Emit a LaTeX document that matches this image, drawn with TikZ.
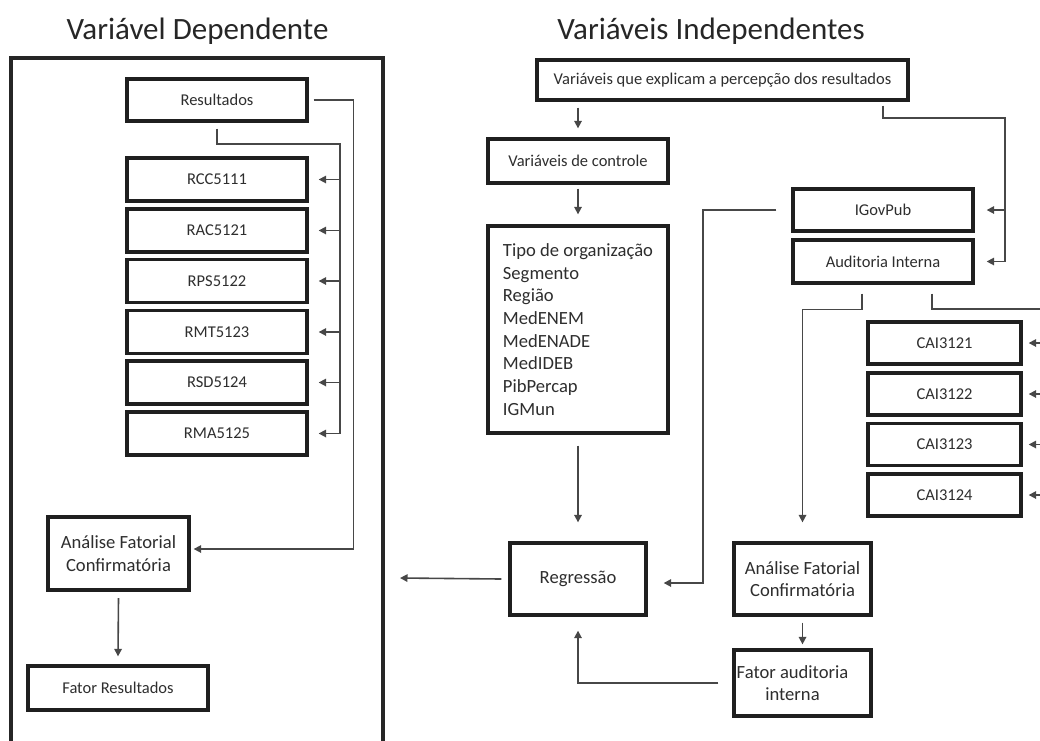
\documentclass[tikz,border=0pt]{standalone}
\usepackage{fontspec}
\setmainfont{Carlito}
\usetikzlibrary{arrows.meta,calc}
\begin{document}
\begin{tikzpicture}[x=1pt,y=-1pt,
  box/.style={draw=black!88,line width=3.3pt,fill=white,inner sep=0pt,text=black!82,
    font=\fontsize{16.5}{20}\selectfont,align=center},
  bigbox/.style={box,font=\fontsize{18.6}{22.7}\selectfont},
  conn/.style={draw=black!72,line width=1.6pt},
  arr/.style={conn,-{Triangle[length=7.5pt,width=7.5pt]}},
  title/.style={text=black!85,font=\fontsize{31}{36}\selectfont,inner sep=0pt,anchor=base},
  frame/.style={draw=black!85,line width=3.3pt}]
\useasboundingbox (0,0) rectangle (1040,740);
\clip (0,0) rectangle (1040,740);

% titles
\node[title] (t1) at (197.5,39) {Variável Dependente};
\node[title] (t2) at (711,39) {Variáveis Independentes};

% left frame (open at the bottom of the picture)
\draw[frame] (11,760) -- (11,58) -- (383,58) -- (383,760);

% ---------- left side ----------
\node[box,minimum width=180pt,minimum height=42pt] (res) at (217,100) {Resultados};
\foreach \n/\t/\y in {RCC/RCC5111/179.5,RAC/RAC5121/230.5,RPS/RPS5122/281,
                      RMT/RMT5123/332,RSD/RSD5124/382.5,RMA/RMA5125/433.5}
  \node[box,minimum width=180pt,minimum height=43pt] (\n) at (217,\y) {\t};
\node[bigbox,minimum width=141pt,minimum height=73pt] (afcL) at (118.5,553.5) {Análise Fatorial\\Confirmatória};
\node[box,minimum width=180pt,minimum height=44pt] (fatR) at (118,688) {Fator Resultados};

\coordinate (busL) at (340,144);
\draw[conn] ([yshift=-6pt]res.south) |- (busL) -- (busL |- RMA.east);
\foreach \n in {RCC,RAC,RPS,RMT,RSD,RMA}
  \draw[arr] (busL |- \n.east) -- ([xshift=10pt]\n.east);
\draw[arr] ([xshift=5pt]res.east) -- ++(40,0) |- ([xshift=3pt,yshift=4.5pt]afcL.east);
\draw[arr] ([yshift=-6.5pt]afcL.south) -- ([yshift=8pt]fatR.north);

% ---------- right side ----------
\node[box,minimum width=371pt,minimum height=40pt] (top) at (722.5,80) {Variáveis que explicam a percepção dos resultados};
\node[box,minimum width=180pt,minimum height=44pt] (ctrl) at (578,161) {Variáveis de controle};
\node[bigbox,minimum width=180pt,minimum height=207pt,align=left] (tipo) at (578,329.5)
  {Tipo de organização\\Segmento\\Região\\MedENEM\\MedENADE\\MedIDEB\\PibPercap\\IGMun};
\node[box,minimum width=180pt,minimum height=42pt] (igov) at (883,210) {IGovPub};
\node[box,minimum width=180pt,minimum height=43pt] (aud) at (883,261.5) {Auditoria Interna};
\foreach \n/\t/\y in {cai1/CAI3121/343,cai2/CAI3122/394,cai3/CAI3123/444.5,cai4/CAI3124/495}
  \node[box,minimum width=153pt,minimum height=42pt] (\n) at (944.5,\y) {\t};
\node[bigbox,minimum width=136pt,minimum height=72pt] (reg) at (578,579) {Regressão};
\node[bigbox,minimum width=137pt,minimum height=72pt] (afcR) at (802.5,579) {Análise Fatorial\\Confirmatória};
\node[bigbox,minimum width=137pt,minimum height=66pt] (fatA) at (802.5,683)
  {\hspace*{-20pt}Fator auditoria\\\hspace*{-20pt}interna};

\draw[arr] ([yshift=-6pt]top.south -| ctrl.north) -- ([yshift=9pt]ctrl.north);
\draw[arr] ([yshift=-4pt]ctrl.south) -- ([yshift=10pt]tipo.north);
\draw[arr] ([yshift=-11pt]tipo.south) -- ([yshift=19pt]reg.north);

\coordinate (busR) at (1005,118);
\draw[conn] ([yshift=-4pt]top.south -| igov.north) |- (busR) -- (busR |- aud.east);
\draw[arr] (busR |- igov.east) -- ([xshift=12pt]igov.east);
\draw[arr] (busR |- aud.east) -- ([xshift=12pt]aud.east);

\coordinate (k1) at (703,583);
\draw[arr] ([xshift=-15pt]igov.west) -| (k1) -- ([xshift=16pt,yshift=-4pt]reg.east);

\draw[arr] ([xshift=-21pt,yshift=-9pt]aud.south) -- ++(0,16) -| ([yshift=19pt]afcR.north);

\coordinate (busC) at (1048,309);
\draw[conn] ([xshift=49pt,yshift=-9pt]aud.south) |- (busC) -- (busC |- cai4.east);
\foreach \n in {cai1,cai2,cai3,cai4}
  \draw[arr] (busC |- \n.east) -- ([xshift=6pt]\n.east);

\draw[arr] ([yshift=-6pt]afcR.south) -- ([yshift=4pt]fatA.north);
\draw[arr] ([xshift=-14pt]fatA.west) -| ([yshift=-14pt]reg.south);

\coordinate (outL) at (400,578);
\draw[arr] ([xshift=-7pt]reg.west) -- (outL);
\end{tikzpicture}
\end{document}
